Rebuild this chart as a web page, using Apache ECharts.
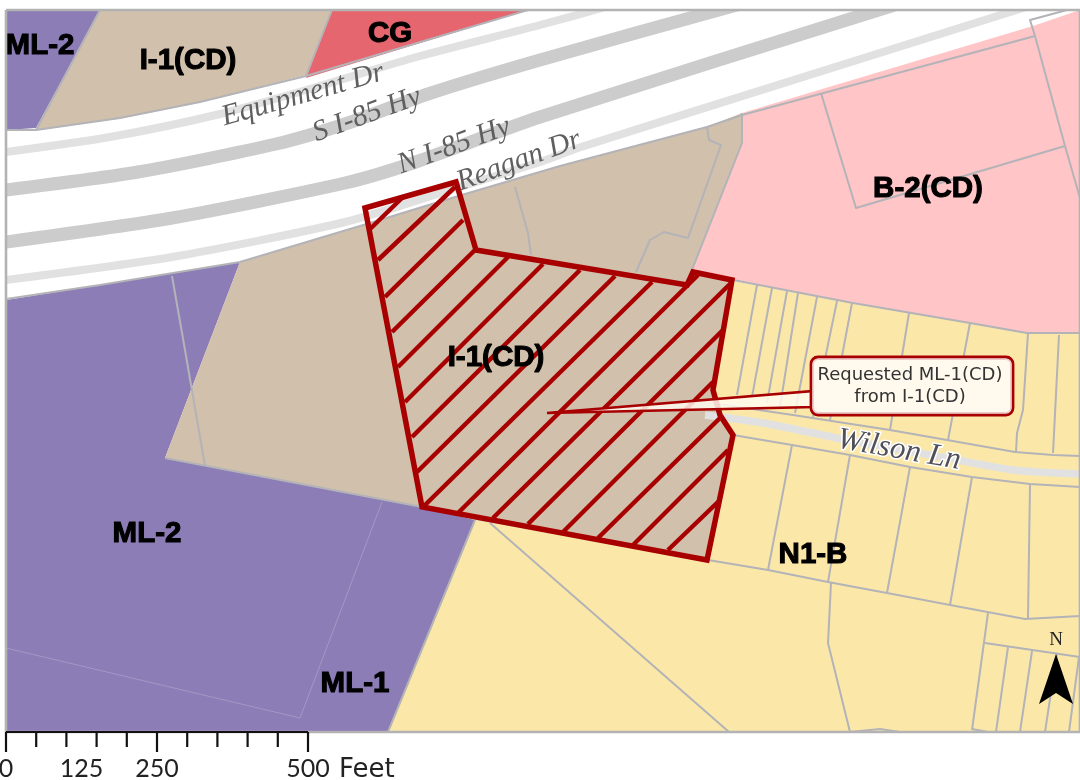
<!DOCTYPE html>
<html><head><meta charset="utf-8">
<style>html,body{margin:0;padding:0;background:#fff}#c{width:1080px;height:780px}</style>
<script src="https://cdn.jsdelivr.net/npm/echarts@6/dist/echarts.min.js"></script>
</head><body><div id="c"></div>
<script>
// Zoning districts (map coordinates)
const zoneYellow = [[388,732],[475,520],[708,560],[733,435],[720,415],[713,390],[732,281],[853,303],[970,323],[1027,333],[1080,333],[1080,732]];
const zoneTan = [[240,262],[360,226],[455,197],[560,166],[707,127],[742,113],[742,143],[695,265],[690,272],[732,281],[713,390],[720,415],[733,435],[708,560],[475,520],[422,507],[165,458]];
const zonePink = [[742,113],[1033,26],[1080,10],[1080,333],[1027,333],[970,323],[853,303],[733,280],[690,272],[695,265],[742,143]];
const zonePurple = [[6,300],[100,285],[240,262],[165,458],[422,507],[475,520],[388,732],[6,732]];
const zonePurpleTop = [[6,10],[100,10],[36,128],[6,130]];
const zoneTanTop = [[100,10],[332,10],[306,75],[200,102],[120,118],[36,130]];
const zoneRedTop = [[332,10],[528,10],[306,78]];
// Road centre lines
const roadEquipment = [[6,152],[110,137],[220,114],[320,86],[413,58],[540,25],[602,8],[640,-2]];
const roadSouth = [[6,190],[138,172],[276,144],[345,124],[431,93],[540,60],[726,8],[770,-4]];
const roadNorth = [[6,242],[172,218],[345,183],[413,163],[540,117],[885,8],[930,-6]];
const roadReagan = [[6,280],[172,257],[345,222],[450,190],[540,162],[581,147],[800,78],[1023,8],[1060,-4]];
const roadWilson = [[705,415],[763,423],[847,440],[947,458],[1013,470],[1080,474]];
// Parcel lines
const parcelLines = [
 [[6,130],[36,130],[120,118],[200,102],[306,76],[528,10]],
 [[36,130],[100,10]],[[306,76],[332,10]],
 [[6,299],[100,285],[240,262],[360,226],[455,197],[560,166],[707,127],[742,115],[1035,36]],
 [[742,113],[742,143],[690,275]],
 [[172,276],[185,350],[205,466]],
 [[165,458],[422,507]],[[475,520],[388,732]],
 [[515,187],[528,233],[531,255]],
 [[707,127],[709,140],[721,145],[688,238],[664,232],[650,240],[636,272]],
 [[821,93],[856,208],[1065,146]],
 [[1067,10],[1030,20],[1035,36],[1065,146],[1080,198]],
 [[733,280],[853,303],[970,323],[1027,333],[1080,333]],
 [[705,402],[793,415],[890,430],[947,440],[1015,452],[1053,455],[1080,456]],
 [[733,435],[792,445],[850,455],[910,467],[972,477],[1030,484],[1080,487]],
 [[757,285],[737,395]],[[772,288],[752,397]],[[787,291],[767,403]],[[798,293],[780,407]],
 [[817,297],[795,413]],[[837,301],[813,417]],[[852,303],[830,420]],[[909,313],[890,430]],
 [[970,323],[948,440]],[[1028,333],[1023,410],[1017,433],[1016,452]],[[1059,335],[1053,453]],
 [[792,445],[768,570]],[[850,455],[828,582]],[[910,467],[887,593]],[[972,477],[950,605]],[[1030,484],[1028,618]],
 [[708,560],[768,570],[828,582],[887,593],[950,605],[1025,619],[1080,616]],
 [[988,613],[972,730]],[[985,643],[1080,657]],
 [[1008,647],[996,732]],[[1032,651],[1020,732]],[[1057,653],[1045,732]],[[1079,657],[1069,732]],
 [[831,583],[828,643],[850,732]],[[490,523],[729,732]],
 [[850,732],[880,729],[900,732]],[[972,729],[988,732]]
];
const purpleLines = [[[6,648],[300,718],[382,502]]];
// Subject parcel and its hatching
const subjectParcel = [[365,208],[456,182],[476,250],[687,285],[693,272],[732,280],[713,390],[720,415],[733,435],[707,560],[422,507]];
const subjectHatch = [
 [[369,230],[403,197]],[[378,260],[455,187]],[[385,297],[463,220]],[[392,332],[475,250]],
 [[398,367],[508,257]],[[405,402],[543,264]],[[412,437],[580,270]],[[417,472],[615,276]],
 [[423,507],[652,282]],[[458,513],[698,275]],[[493,518],[732,282]],[[528,524],[723,330]],
 [[563,532],[713,382]],[[598,538],[720,418]],[[633,545],[728,450]],[[668,550],[719,501]]
];
// Callout
const calloutLeader = [[547,413],[814,391],[814,407]];
const calloutBox = [811,357,1013,415];
const calloutText = ['Requested ML-1(CD)','from I-1(CD)'];
const calloutAnchor = [[910,386]];
// Labels: text, x, y
const zoneLabels = [['ML-2',40,45.5],['I-1(CD)',188,61],['CG',390,34],['B-2(CD)',928,188.5],['I-1(CD)',496,357.5],['N1-B',813,554.5],['ML-2',147,533.5],['ML-1',355,683.5]];
// Road labels: text, x, y, angle
const roadLabels = [['Equipment Dr',303,95,16],['S I-85 Hy',367,115,20],['N I-85 Hy',454,146,20],['Reagan Dr',519,161,20]];
const wilsonLabel = [['Wilson Ln',899,450,-10]];
// North arrow
const northArrow = [[1056,654],[1073,704],[1056,693],[1039,704]];
const northLabel = [['N',1056,640]];
// Scale bar, in feet
const scaleMajor = [0,250,500];
const scaleMinor = [50,100,150,200,300,350,400,450];
const scaleLabels = [['0',0],['125',125],['250',250],['500',500]];
const scaleUnit = ['Feet'];

const sans='"Liberation Sans",Arial,sans-serif', ser='"Liberation Serif",serif', geo='Lato,"Open Sans",sans-serif';
const C={purple:'#8d7db6',tan:'#d1c0ab',pink:'#ffc5c7',yellow:'#fbe8a9',red:'#e5666f',sub:'#a80000',line:'#b3b3b8'};

function layer(list,draw,clip,idx){
  return {type:'custom',coordinateSystem:'cartesian2d',xAxisIndex:idx||0,yAxisIndex:idx||0,clip:!!clip,silent:true,
    data:list.map((_,i)=>[i]),
    renderItem:(p,api)=>draw(list[p.dataIndex],api)};
}
const pts=(a,api)=>a.map(q=>api.coord(q));
const poly=(fill,stroke,w)=>(a,api)=>({type:'polygon',shape:{points:pts(a,api)},style:{fill:fill,stroke:stroke||null,lineWidth:w||0}});
const line=(col,w,smooth)=>(a,api)=>({type:'polyline',shape:{points:pts(a,api),smooth:smooth||0},style:{fill:null,stroke:col,lineWidth:w,lineCap:'butt',lineJoin:'round'}});
const txt=(font,fill,stroke,sw)=>(l,api)=>{const c=api.coord([l[1],l[2]]);
  return {type:'text',x:c[0],y:c[1],rotation:(l[3]||0)*Math.PI/180,style:{text:l[0],font:font,fill:fill,stroke:stroke,lineWidth:sw,align:'center',verticalAlign:'middle'}}};

const series=[
 layer([zoneYellow],poly(C.yellow),1),
 layer([zonePurple,zonePurpleTop],poly(C.purple),1),
 layer([zoneTan,zoneTanTop],poly(C.tan),1),
 layer([zonePink],poly(C.pink),1),
 layer([zoneRedTop],poly(C.red),1),
 layer([roadEquipment,roadReagan],line('#e1e1e1',8,0.25),1),
 layer([roadSouth,roadNorth],line('#cccccc',13,0.25),1),
 layer([roadWilson],line('#e1e1e1',7.5,0.25),1),
 layer(purpleLines,line('#a99dc8',0.8),1),
 layer(parcelLines,line(C.line,2),1),
 layer(subjectHatch,line(C.sub,4.5),1),
 layer([subjectParcel],poly('rgba(0,0,0,0)',C.sub,5.5),1),
 layer(zoneLabels,txt('bold 29.5px '+sans,'#000','#000',1.1),0),
 layer(roadLabels,txt('italic 29.5px '+ser,'#5f5f5f','#fff',0),0),
 layer(wilsonLabel,txt('italic 31px '+ser,'#505058','#fff',3),0),
 layer([calloutLeader],poly('rgba(255,250,240,0.85)',C.sub,2.6),0),
 layer([calloutBox],(b,api)=>{const a=api.coord([b[0],b[1]]),e=api.coord([b[2],b[3]]);
   return {type:'rect',shape:{x:a[0],y:a[1],width:e[0]-a[0],height:e[1]-a[1],r:7},style:{fill:'#fff9ee',stroke:C.sub,lineWidth:2.8}}},0),
 layer([calloutBox],(b,api)=>{const a=api.coord([b[0]+2.2,b[1]+2.2]),e=api.coord([b[2]-2.2,b[3]-2.2]);
   return {type:'rect',shape:{x:a[0],y:a[1],width:e[0]-a[0],height:e[1]-a[1],r:5},style:{fill:null,stroke:'#eccaca',lineWidth:1.4}}},0),
 layer(calloutAnchor,(q,api)=>{const c=api.coord(q);
   return {type:'text',x:c[0],y:c[1],style:{text:calloutText.join('\n'),font:'18px "DejaVu Sans",sans-serif',lineHeight:22,fill:'#333',align:'center',verticalAlign:'middle'}}},0),
 layer([northArrow],poly('#000'),0),
 layer(northLabel,txt('19px '+ser,'#222','#fff',0),0),
 layer([[[6,10],[1080,10],[1080,732],[6,732],[6,10]]],line('#b3b3b3',2.6),0),
 // scale bar in feet, on its own axis
 layer([[[0,0],[500,0]]],line('#111',2.2),0,1),
 layer(scaleMajor,(f,api)=>line('#111',2.2)([[f,0],[f,20]],api),0,1),
 layer(scaleMinor,(f,api)=>line('#111',2.2)([[f,0],[f,15]],api),0,1),
 layer(scaleLabels,(l,api)=>{const c=api.coord([l[1],37]);
   return {type:'text',x:c[0],y:c[1],style:{text:l[0],font:'25px '+geo,fill:'#222',align:'center',verticalAlign:'middle'}}},0,1),
 layer(scaleUnit,(l,api)=>{const c=api.coord([500,38]);
   return {type:'text',x:c[0]+31,y:c[1],style:{text:l,font:'26px "DejaVu Sans",sans-serif',fill:'#222',align:'left',verticalAlign:'middle'}}},0,1)
];

const chart=echarts.init(document.getElementById('c'),null,{renderer:'canvas'});
chart.setOption({animation:false,backgroundColor:'#fff',
 grid:[{left:6,top:10,width:1074,height:722},{left:6,top:732,width:302,height:20}],
 xAxis:[{type:'value',min:6,max:1080,show:false},{type:'value',gridIndex:1,min:0,max:500,show:false}],
 yAxis:[{type:'value',min:10,max:732,inverse:true,show:false},{type:'value',gridIndex:1,min:0,max:20,inverse:true,show:false}],
 series:series});
</script></body></html>
